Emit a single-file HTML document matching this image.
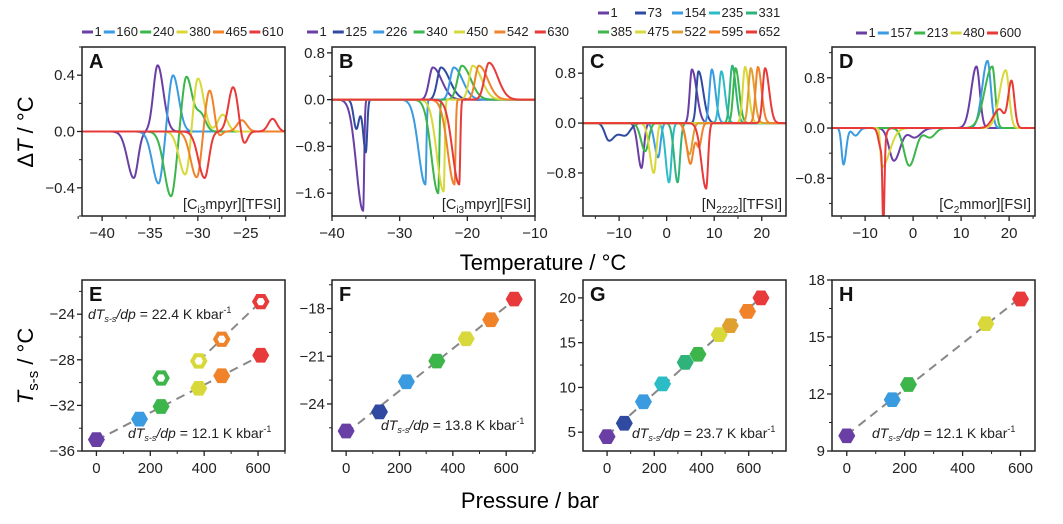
<!DOCTYPE html>
<html><head><meta charset="utf-8"><style>
html,body{margin:0;padding:0;background:#fff;}
svg{display:block;font-family:"Liberation Sans",sans-serif;}
</style></head><body>
<svg id="fig" width="1063" height="524" viewBox="0 0 1063 524" xmlns="http://www.w3.org/2000/svg">
<text x="33" y="132" font-size="22" text-anchor="middle" transform="rotate(-90 33 132)">Δ<tspan font-style="italic">T</tspan> / °C</text>
<text x="543" y="270" font-size="22" text-anchor="middle">Temperature / °C</text>
<text x="33" y="366" font-size="22" text-anchor="middle" transform="rotate(-90 33 366)"><tspan font-style="italic">T</tspan><tspan font-size="15" dy="5">s-s</tspan><tspan dy="-5"> / °C</tspan></text>
<text x="530" y="508" font-size="22" text-anchor="middle">Pressure / bar</text>
</svg>
<script>
// ---- Panel A data ----
const aLabels=['1','160','240','380','465','610'];
const aColors=['#6a3fa5','#3b9be0','#3cb54a','#d8d83a','#f0822a','#e83a3a'];
const aPeaks=[
 [[-34.2,0.47,0.45,0.6],[-36.7,-0.33,0.65,0.45]],
 [[-32.6,0.40,0.45,0.6],[-34.1,-0.37,0.65,0.45]],
 [[-31.2,0.39,0.45,0.6],[-29.7,0.12,0.5,0.5],[-32.8,-0.46,0.7,0.5]],
 [[-30.0,0.38,0.45,0.6],[-27.4,0.12,0.5,0.5],[-31.3,-0.31,0.65,0.45]],
 [[-28.7,0.32,0.5,0.6],[-25.4,0.08,0.5,0.5],[-30.1,-0.33,0.65,0.45],[-28.0,-0.14,0.4,0.4]],
 [[-26.3,0.32,0.5,0.6],[-22.2,0.09,0.45,0.45],[-29.3,-0.33,0.65,0.45],[-25.3,-0.14,0.4,0.4]]
];
// ---- Panel B data ----
const bLabels=['1','125','226','340','450','542','630'];
const bColors=['#6a3fa5','#2f4aa0','#3b9be0','#3cb54a','#d8d83a','#f0822a','#e83a3a'];
const bPeaks=[
 [[-25.1,0.55,0.55,1.3],[-35.4,-1.9,1.0,0.15]],
 [[-23.9,0.55,0.55,1.3],[-35.0,-0.9,0.4,0.2],[-36.4,-0.5,0.4,0.4]],
 [[-22.0,0.55,0.55,1.3],[-26.2,-1.45,1.0,0.15]],
 [[-20.8,0.58,0.65,1.3],[-24.3,-1.6,1.0,0.15]],
 [[-19.2,0.58,0.55,1.3],[-23.5,-1.57,1.0,0.15]],
 [[-18.3,0.58,0.55,1.3],[-21.9,-1.45,1.0,0.15]],
 [[-16.8,0.63,0.65,1.3],[-21.2,-1.45,1.0,0.15]]
];
// ---- Panel C data ----
const cLabels=['1','73','154','235','331','385','475','522','595','652'];
const cColors=['#6a3fa5','#2f4aa0','#3b9be0','#2bbcc6','#2fb37a','#3cb54a','#d8d83a','#e0a030','#f0822a','#e83a3a'];
const cPeaks=[
 [[5.3,0.86,0.45,1.0],[-5.3,-0.72,0.75,0.5]],
 [[6.7,0.83,0.45,1.0],[-12.2,-0.26,0.8,1.1],[-8.8,-0.2,1.6,1.1]],
 [[9.5,0.86,0.5,0.75],[-1.8,-0.55,0.75,0.5]],
 [[11.5,0.83,0.5,0.75],[0.5,-0.95,0.7,0.5]],
 [[13.8,0.92,0.5,0.75],[2.3,-0.95,0.7,0.5]],
 [[14.5,0.88,0.5,0.75],[-4.5,-0.45,0.9,0.7]],
 [[16.5,0.90,0.5,0.75],[-2.7,-0.8,0.85,0.5]],
 [[17.7,0.88,0.5,0.75],[4.8,-0.5,0.75,0.6]],
 [[19.2,0.90,0.5,0.75],[5.0,-0.65,0.75,0.6],[6.8,-0.38,0.6,0.5]],
 [[20.7,0.88,0.5,0.85],[8.3,-1.05,1.0,0.4]]
];
// ---- Panel D data ----
const dLabels=['1','157','213','480','600'];
const dColors=['#6a3fa5','#3b9be0','#3cb54a','#d8d83a','#e83a3a'];
const dPeaks=[
 [[13.2,0.98,1.1,0.7],[-4.0,-0.52,1.0,1.3],[0.3,-0.15,1.1,1.3]],
 [[15.5,1.07,1.1,0.7],[-14.5,-0.58,0.4,0.55],[-12.0,-0.12,0.7,0.7]],
 [[16.5,0.98,1.6,0.6],[-0.8,-0.6,1.1,1.3],[3.5,-0.15,1.1,1.1]],
 [[19.3,0.92,1.3,0.7],[-6.5,-0.62,0.3,1.6]],
 [[20.5,0.75,0.7,0.6],[18.0,0.3,1.3,0.9],[-6.2,-1.3,0.18,0.22],[-6.6,-0.35,0.55,0.65]]
];
// ---- Scatter data ----
const ePress=[0,160,240,380,465,610];
const eLower=[-35.0,-33.2,-32.1,-30.5,-29.4,-27.6];
const eUpperPress=[240,380,465,610];
const eUpper=[-29.6,-28.1,-26.2,-22.9];
const fPress=[0,125,226,340,450,542,630];
const fTemp=[-25.7,-24.5,-22.6,-21.3,-19.9,-18.7,-17.4];
const gPress=[0,73,154,235,331,385,475,522,595,652];
const gTemp=[4.5,6.0,8.4,10.4,12.8,13.7,15.9,16.9,18.5,20.0];
const hPress=[0,157,213,480,600];
const hTemp=[9.8,11.7,12.5,15.7,17.0];
// tick labels
const aXTicks=[-40,-35,-30,-25], aYTicks=[-0.4,0.0,0.4];
const bXTicks=[-40,-30,-20,-10], bYTicks=[-1.6,-0.8,0.0,0.8];
const cXTicks=[-10,0,10,20], cYTicks=[-0.8,0.0,0.8];
const dXTicks=[-10,0,10,20], dYTicks=[-0.8,0.0,0.8];
const pXTicks=[0,200,400,600];
const eYTicks=[-36,-32,-28,-24], fYTicks=[-24,-21,-18], gYTicks=[5,10,15,20], hYTicks=[9,12,15,18];

const NS='http://www.w3.org/2000/svg';
const svg=document.getElementById('fig');
function mk(tag,attrs,parent){const e=document.createElementNS(NS,tag);for(const k in attrs)e.setAttribute(k,attrs[k]);(parent||svg).appendChild(e);return e;}
function fmt(v,d){let s=v.toFixed(d);if(s.startsWith('-'))s='\u2212'+s.slice(1);if(s==='\u22120.0')s='0.0';return s;}

function makePanel(id,x0,x1,y0,y1,xd,yd,xTicks,yTicks,xMinor,yMinor,xDec,yDec){
  const g=mk('g',{});
  
  
  const sx=v=>x0+(v-xd[0])/(xd[1]-xd[0])*(x1-x0);
  const sy=v=>y1-(v-yd[0])/(yd[1]-yd[0])*(y1-y0);
  const clip=mk('clipPath',{id:'clip-'+id},g);
  mk('rect',{x:x0,y:y0,width:x1-x0,height:y1-y0},clip);
  const plot=mk('g',{'clip-path':'url(#clip-'+id+')'},g);
  
  
  xTicks.forEach(v=>{
    const l=mk('line',{x1:sx(v),x2:sx(v),y1:y1,y2:y1+5,stroke:'#222','stroke-width':1.3},g);
    
    
    const t=mk('text',{x:sx(v),y:y1+22,'font-size':15,'text-anchor':'middle',fill:'#222'},g);
    
    
    t.textContent=fmt(v,xDec);
  });
  xMinor.forEach(v=>{mk('line',{x1:sx(v),x2:sx(v),y1:y1,y2:y1+3,stroke:'#222','stroke-width':1},g);});
  yTicks.forEach(v=>{
    const l=mk('line',{x1:x0-5,x2:x0,y1:sy(v),y2:sy(v),stroke:'#222','stroke-width':1.3},g);
    
    
    const t=mk('text',{x:x0-7,y:sy(v)+5,'font-size':15,'text-anchor':'end',fill:'#222'},g);
    
    
    t.textContent=fmt(v,yDec);
  });
  yMinor.forEach(v=>{mk('line',{x1:x0-3,x2:x0,y1:sy(v),y2:sy(v),stroke:'#222','stroke-width':1},g);});
  const fr=mk('rect',{x:x0,y:y0,width:x1-x0,height:y1-y0,fill:'none',stroke:'#222','stroke-width':1.5},g);
  
  
  const lt=mk('text',{x:x0+7,y:y0+21,'font-size':20,'font-weight':'bold',fill:'#111'},g);
  
  
  lt.textContent=id.toUpperCase();
  return {g,plot,sx,sy,x0,x1,y0,y1};
}
function curveVal(peaks,x){let y=0;peaks.forEach(p=>{const s=x<p[0]?p[2]:p[3];y+=p[1]*Math.exp(-(x-p[0])*(x-p[0])/(2*s*s));});return y;}
function drawCurves(P,xd,peaksArr,colors,labels){
  peaksArr.forEach((pk,i)=>{
    let d='';const n=600;
    for(let k=0;k<=n;k++){const x=xd[0]+(xd[1]-xd[0])*k/n;d+=(k?'L':'M')+P.sx(x).toFixed(2)+','+P.sy(curveVal(pk,x)).toFixed(2);}
    const p=mk('path',{d:d,fill:'none',stroke:colors[i],'stroke-width':2,'stroke-linejoin':'round'},P.plot);
    
    
  });
}
function legend(xStart,y,labels,colors,gap,name){
  const g=mk('g',{});
  
  
  let x=xStart;
  labels.forEach((lb,i)=>{
    mk('line',{x1:x,x2:x+11,y1:y-4,y2:y-4,stroke:colors[i],'stroke-width':3},g);
    const t=mk('text',{x:x+12.5,y:y,'font-size':13,fill:'#222'},g);
    
    
    t.textContent=lb;
    x+=12.5+lb.length*7.3+gap;
  });
}
function legendCols(xStart,y,labels,colors,colW,name){
  const g=mk('g',{});
  
  
  labels.forEach((lb,i)=>{
    const x=xStart+i*colW;
    mk('line',{x1:x,x2:x+11,y1:y-4,y2:y-4,stroke:colors[i],'stroke-width':3},g);
    const t=mk('text',{x:x+12.5,y:y,'font-size':13,fill:'#222'},g);
    
    
    t.textContent=lb;
  });
}
function compound(P,html,name){
  const t=mk('text',{x:P.x1-4,y:P.y1-7,'font-size':14.5,'text-anchor':'end',fill:'#222'},P.g);
  
  
  t.innerHTML=html;
}
function hexPath(cx,cy,r){let d='';for(let k=0;k<6;k++){const a=Math.PI/3*k;d+=(k?'L':'M')+(cx+r*Math.cos(a)).toFixed(2)+','+(cy+r*Math.sin(a)).toFixed(2);}return d+'Z';}
function fitLine(P,xs,ys,xa,xb){
  const n=xs.length;let mx=0,my=0;xs.forEach((v,i)=>{mx+=v;my+=ys[i];});mx/=n;my/=n;
  let sxy=0,sxx=0;xs.forEach((v,i)=>{sxy+=(v-mx)*(ys[i]-my);sxx+=(v-mx)*(v-mx);});
  const b=sxy/sxx,a=my-b*mx;
  const l=mk('line',{x1:P.sx(xa),y1:P.sy(a+b*xa),x2:P.sx(xb),y2:P.sy(a+b*xb),stroke:'#888','stroke-width':2,'stroke-dasharray':'9,6'},P.plot);
  
  
}
function hexes(P,xs,ys,colors,hollow,name){
  xs.forEach((v,i)=>{
    const cx=P.sx(v),cy=P.sy(ys[i]);
    const h=hollow?mk('path',{d:hexPath(cx,cy,6.5),fill:'#fff',stroke:colors[i],'stroke-width':4},P.plot)
                  :mk('path',{d:hexPath(cx,cy,8.5),fill:colors[i],stroke:'none'},P.plot);
    
    
  });
}
function slope(P,x,y,val,name){
  const t=mk('text',{x:x,y:y,'font-size':14,fill:'#222'},P.g);
  
  
  t.innerHTML='<tspan font-style="italic">dT</tspan><tspan font-style="italic" font-size="9" dy="3">s-s</tspan><tspan font-style="italic" dy="-3">/dp</tspan> = '+val+' K kbar<tspan font-size="9" dy="-6">-1</tspan>';
}
const range=(a,b,s)=>{const r=[];for(let v=a;v<=b+1e-9;v+=s)r.push(v);return r;};

// Top panels
const aXd=[-42.1,-20.9],aYd=[-0.6,0.6];
const A=makePanel('a',82,285,47,216,aXd,aYd,aXTicks,aYTicks,range(-42.5,-22.5,5),[-0.6,-0.2,0.2,0.6],0,1);
drawCurves(A,aXd,aPeaks,aColors,aLabels);
compound(A,'[C<tspan font-size="10" dy="4">i3</tspan><tspan dy="-4">mpyr][TFSI]</tspan>','compound-label-a');
legend(82,36,aLabels,aColors,2,'legend-a');

const bXd=[-40,-10],bYd=[-1.99,0.9];
const B=makePanel('b',332,535,47,216,bXd,bYd,bXTicks,bYTicks,[-35,-25,-15],[-1.2,-0.4,0.4],0,1);
drawCurves(B,bXd,bPeaks,bColors,bLabels);
compound(B,'[C<tspan font-size="10" dy="4">i3</tspan><tspan dy="-4">mpyr][FSI]</tspan>','compound-label-b');
legend(307,36,bLabels,bColors,6,'legend-b');

const cXd=[-17.6,25.1],cYd=[-1.49,1.22];
const C=makePanel('c',583,786,47,216,cXd,cYd,cXTicks,cYTicks,[-15,-5,5,15],[-1.2,-0.4,0.4],0,1);
drawCurves(C,cXd,cPeaks,cColors,cLabels);
compound(C,'[N<tspan font-size="10" dy="4">2222</tspan><tspan dy="-4">][TFSI]</tspan>','compound-label-c');
legendCols(598,17,cLabels.slice(0,5),cColors.slice(0,5),37,'legend-c-row1');
legendCols(598,36,cLabels.slice(5),cColors.slice(5),37,'legend-c-row2');

const dXd=[-16.9,25.4],dYd=[-1.4,1.29];
const D=makePanel('d',832,1035,47,216,dXd,dYd,dXTicks,dYTicks,[-15,-5,5,15,25],[-1.2,-0.4,0.4,1.2],0,1);
drawCurves(D,dXd,dPeaks,dColors,dLabels);
compound(D,'[C<tspan font-size="10" dy="4">2</tspan><tspan dy="-4">mmor][FSI]</tspan>','compound-label-d');
legend(856,37,dLabels,dColors,2,'legend-d');

// Bottom panels
const E=makePanel('e',82,285,280,451,[-53.5,700],[-36,-21],pXTicks,eYTicks,[100,300,500,700],[-34,-30,-26,-22],0,0);
fitLine(E,ePress,eLower,0,610);
fitLine(E,eUpperPress.slice(1),eUpper.slice(1),380,610);
hexes(E,ePress,eLower,aColors,false,'e-lower');
hexes(E,eUpperPress,eUpper,aColors.slice(2),true,'e-upper');
slope(E,88,319,'22.4','slope-annotation-e-upper');
slope(E,128,438,'12.1','slope-annotation-e-lower');

const F=makePanel('f',332,535,280,451,[-53,708],[-26.96,-16.2],pXTicks,fYTicks,[100,300,500,700],[-25.5,-22.5,-19.5,-16.5],0,0);
fitLine(F,fPress,fTemp,0,630);
hexes(F,fPress,fTemp,bColors,false,'f');
slope(F,381,430,'13.8','slope-annotation-f');

const G=makePanel('g',583,786,280,451,[-102,758],[2.9,22.0],pXTicks,gYTicks,[100,300,500,700],[7.5,12.5,17.5],0,0);
fitLine(G,gPress,gTemp,0,652);
hexes(G,gPress,gTemp,cColors,false,'g');
slope(G,632,438,'23.7','slope-annotation-g');

const H=makePanel('h',832,1035,280,451,[-51,650],[9,18],pXTicks,hYTicks,[100,300,500],[10.5,13.5,16.5],0,0);
fitLine(H,hPress,hTemp,0,600);
hexes(H,hPress,hTemp,dColors,false,'h');
slope(H,872,438,'12.1','slope-annotation-h');
</script>
</body></html>
